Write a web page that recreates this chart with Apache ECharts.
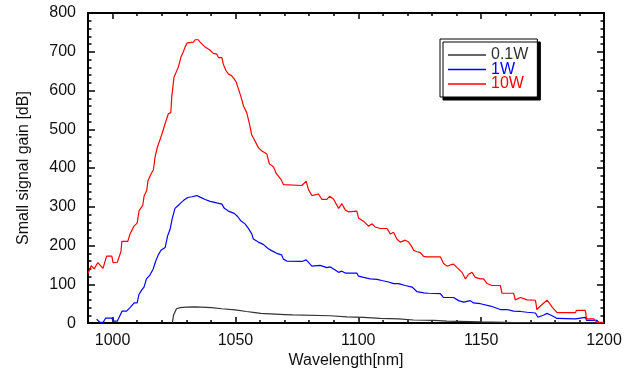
<!DOCTYPE html>
<html>
<head>
<meta charset="utf-8">
<script src="https://cdn.jsdelivr.net/npm/echarts@6/dist/echarts.min.js"></script>
<style>
html,body{margin:0;padding:0;background:#fff;}
#chart{width:636px;height:374px;}
</style>
</head>
<body>
<div id="chart"></div>
<script>
// Tick labels
const xLabelValues = [1000, 1050, 1100, 1150, 1200];
const seriesNames = ['0.1W', '1W', '10W'];

// Series data: [wavelength nm, gain dB]
const data01W = [[1024.3,0],[1024.8,20],[1026.0,37],[1027.5,40],[1029.9,41],[1033.6,42],[1040.4,40],[1044.4,37],[1049.9,34],[1054.5,30],[1058.0,27],[1060.3,25],[1070.2,22],[1073.3,21],[1088.6,19],[1095.4,16],[1102.1,15],[1108.9,12],[1116.5,11],[1122.5,8],[1130.9,7],[1136.1,5],[1145.4,4],[1149.7,3],[1159.8,2],[1163.1,1.5],[1188.4,1],[1200,0.5]];

const data1W = [[993.5,10],[994.9,2],[996.2,2],[997.2,13],[999.7,13],[1000.4,5],[1001.9,5],[1003.9,31],[1005.7,31],[1007.1,40],[1008.8,52],[1010.0,52],[1010.7,73],[1011.8,85],[1012.8,93],[1013.8,114],[1015.2,124],[1016.5,139],[1017.5,159],[1018.6,176],[1019.7,188],[1021.4,195],[1022.4,225],[1023.4,242],[1024.3,270],[1025.4,296],[1026.8,304],[1027.8,310],[1028.8,316],[1030.6,324],[1032.3,326],[1034.3,329],[1035.6,325],[1037.7,319],[1039.7,314],[1042.4,310],[1044.5,307],[1045.5,296],[1047.1,289],[1049.5,283],[1050.9,275],[1052.2,264],[1053.9,256],[1055.2,245],[1056.6,231],[1057.3,217],[1059.3,209],[1061.3,203],[1063.4,192],[1064.7,187],[1066.8,180],[1068.8,176],[1069.5,165],[1070.9,160],[1077.0,159],[1078.8,163],[1080.1,154],[1081.1,147],[1084.5,149],[1087.2,143],[1088.6,145],[1090.6,137],[1092.0,131],[1093.3,134],[1094.7,129],[1099.4,129],[1100.1,121],[1103.5,116],[1104.9,114],[1107.6,113],[1109.6,110],[1112.3,106],[1114.4,102],[1116.4,102],[1119.1,97],[1121.9,93],[1123.9,81],[1126.6,78],[1128.6,77],[1133.4,76],[1134.7,66],[1138.8,66],[1140.8,58],[1142.9,54],[1145.6,58],[1146.9,52],[1149.7,50],[1153.8,44],[1157.8,35],[1160.5,35],[1163.2,31],[1163.9,26],[1166.0,30],[1168.7,28],[1172.1,26],[1173.1,15],[1175.5,21],[1176.8,25],[1178.9,19],[1180.9,12],[1188.4,11],[1189.1,15],[1192.4,15],[1192.9,7],[1197.2,7],[1197.9,1],[1200,1]];

const data10W = [[990,128],[991.3,148],[992.5,140],[994.0,156],[996.1,141],[997.6,173],[999.7,173],[1000.2,156],[1001.9,157],[1003.4,184],[1003.8,211],[1006.2,211],[1007.1,230],[1008.7,250],[1010.0,258],[1010.8,290],[1012.3,304],[1012.8,327],[1013.9,342],[1014.4,367],[1015.9,388],[1016.6,395],[1017.3,428],[1018.2,453],[1020.0,486],[1021.4,515],[1022.7,540],[1023.7,543],[1024.1,585],[1025.0,634],[1026.8,661],[1027.5,663],[1027.9,688],[1028.8,700],[1029.5,712],[1030.4,723],[1032.9,725],[1033.6,731],[1034.9,731],[1035.6,725],[1037.7,712],[1039.7,704],[1041.0,696],[1042.4,694],[1043.1,685],[1044.5,685],[1045.1,667],[1046.2,651],[1047.1,643],[1048.5,638],[1049.5,630],[1050.3,622],[1051.2,605],[1052.2,585],[1053.3,560],[1054.6,543],[1055.7,514],[1056.6,486],[1058.0,469],[1059.4,452],[1060.8,444],[1062.8,436],[1063.8,411],[1065.5,403],[1066.6,386],[1068.6,370],[1069.6,357],[1077.0,355],[1077.7,353],[1078.8,366],[1079.7,345],[1080.4,341],[1081.1,329],[1083.8,333],[1085.2,319],[1087.2,319],[1088.3,327],[1089.9,320],[1092.0,296],[1093.3,308],[1094.7,292],[1096.0,287],[1099.4,289],[1100.1,271],[1102.1,263],[1104.2,250],[1105.6,256],[1106.9,248],[1108.9,244],[1111.7,244],[1113.0,230],[1114.4,234],[1115.7,217],[1117.1,209],[1119.1,214],[1120.5,209],[1121.9,196],[1122.5,188],[1123.9,184],[1125.2,182],[1126.6,172],[1127.9,171],[1133.4,171],[1134.7,154],[1136.1,147],[1137.5,150],[1138.8,152],[1140.2,143],[1142.2,131],[1143.6,114],[1144.9,126],[1146.3,131],[1147.6,118],[1149.7,114],[1151.0,114],[1152.4,102],[1154.4,97],[1157.8,97],[1158.5,77],[1163.2,77],[1163.9,60],[1166.0,66],[1168.7,60],[1172.1,59],[1172.7,35],[1174.1,44],[1176.8,59],[1177.9,50],[1178.9,41],[1180.9,27],[1188.4,27],[1188.8,33],[1192.4,33],[1192.9,11],[1195.8,11],[1197.2,2],[1200,2]];

const colors = ['#333333', '#0000ff', '#ff0000'];
const FONT = 'Liberation Sans, Arial, sans-serif';

const chart = echarts.init(document.getElementById('chart'), null, {renderer: 'canvas'});

const xBase = {type: 'value', min: 990, max: 1200, splitLine: {show: false}};
const yBase = {type: 'value', min: 0, max: 800, interval: 100, splitLine: {show: false}};
const axisLineStyle = {show: true, lineStyle: {color: '#000', width: 2}};

chart.setOption({
  animation: false,
  backgroundColor: '#fff',
  grid: {left: 88, right: 32, top: 13, bottom: 38},
  xAxis: [
    Object.assign({}, xBase, {
      position: 'bottom',
      interval: 10,
      axisLine: axisLineStyle,
      axisTick: {show: true, inside: true, length: 6, customValues: xLabelValues, lineStyle: {color: '#000', width: 1.5}},
      axisLabel: {show: true, customValues: xLabelValues, margin: 9, color: '#111', fontSize: 16, fontFamily: FONT,
        formatter: v => String(v)},
      name: 'Wavelength[nm]', nameLocation: 'middle', nameGap: 21,
      nameTextStyle: {color: '#111', fontSize: 16, fontFamily: FONT}
    }),
    Object.assign({}, xBase, {
      position: 'bottom', interval: 10,
      axisLine: {show: false},
      axisTick: {show: true, inside: true, length: 3, lineStyle: {color: '#000', width: 1.5}},
      axisLabel: {show: false}
    }),
    Object.assign({}, xBase, {
      position: 'top', interval: 10,
      axisLine: axisLineStyle,
      axisTick: {show: true, inside: true, length: 6, customValues: xLabelValues, lineStyle: {color: '#000', width: 1.5}},
      axisLabel: {show: false}
    }),
    Object.assign({}, xBase, {
      position: 'top', interval: 10,
      axisLine: {show: false},
      axisTick: {show: true, inside: true, length: 3, lineStyle: {color: '#000', width: 1.5}},
      axisLabel: {show: false}
    })
  ],
  yAxis: [
    Object.assign({}, yBase, {
      position: 'left',
      axisLine: axisLineStyle,
      axisTick: {show: true, inside: true, length: 7, lineStyle: {color: '#000', width: 1.5}},
      minorTick: {show: true, splitNumber: 5, length: 3.5, lineStyle: {color: '#000', width: 1.5}},
      axisLabel: {show: true, margin: 12, color: '#111', fontSize: 16, fontFamily: FONT},
      name: 'Small signal gain [dB]', nameLocation: 'middle', nameGap: 56,
      nameTextStyle: {color: '#111', fontSize: 16, fontFamily: FONT}
    }),
    Object.assign({}, yBase, {
      position: 'right',
      axisLine: axisLineStyle,
      axisTick: {show: true, inside: true, length: 7, lineStyle: {color: '#000', width: 1.5}},
      minorTick: {show: true, splitNumber: 5, length: 3.5, lineStyle: {color: '#000', width: 1.5}},
      axisLabel: {show: false}
    })
  ],
  legend: {
    orient: 'vertical',
    left: 440, top: 39,
    padding: [8, 9, 5, 8],
    icon: 'rect',
    itemWidth: 38, itemHeight: 1.3, itemGap: -1.5,
    backgroundColor: '#fff',
    borderColor: '#000', borderWidth: 1, borderRadius: 0,
    shadowColor: '#000', shadowBlur: 0, shadowOffsetX: 3, shadowOffsetY: 3,
    textStyle: {fontSize: 16, fontFamily: FONT},
    data: seriesNames.map((n, i) => ({name: n, textStyle: {color: colors[i]}}))
  },
  series: [
    {name: seriesNames[0], type: 'line', data: data01W, symbol: 'none', color: colors[0], lineStyle: {width: 1.2, color: colors[0]}, xAxisIndex: 0, yAxisIndex: 0},
    {name: seriesNames[1], type: 'line', data: data1W, symbol: 'none', color: colors[1], lineStyle: {width: 1.2, color: colors[1]}, xAxisIndex: 0, yAxisIndex: 0},
    {name: seriesNames[2], type: 'line', data: data10W, symbol: 'none', color: colors[2], lineStyle: {width: 1.2, color: colors[2]}, xAxisIndex: 0, yAxisIndex: 0}
  ]
});
</script>
</body>
</html>
